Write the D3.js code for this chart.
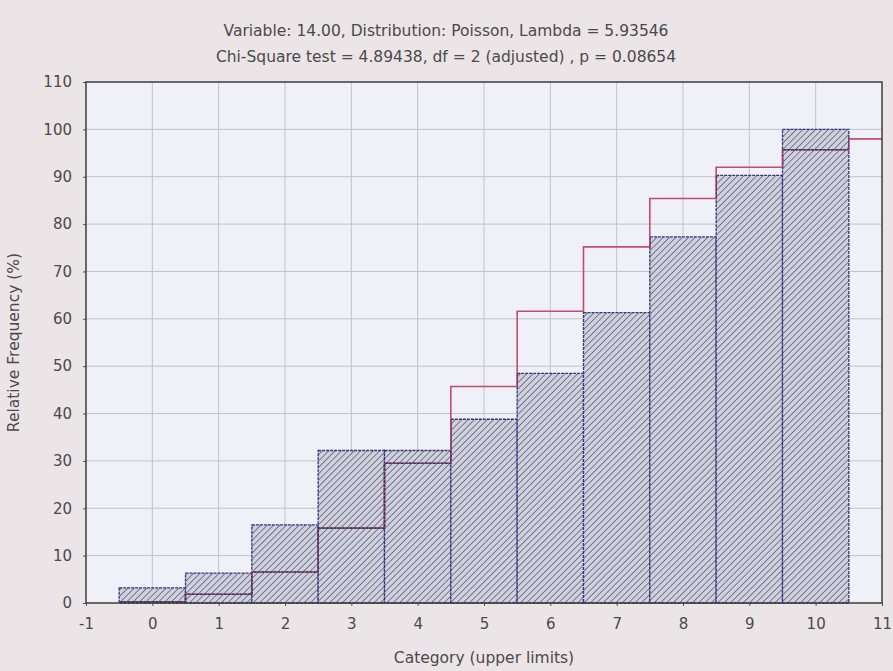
<!DOCTYPE html>
<html>
<head>
<meta charset="utf-8">
<script src="https://cdn.jsdelivr.net/npm/d3@7"></script>
<style>
  body { margin: 0; background: #ebe5e7; }
  text { font-family: 'DejaVu Sans', sans-serif; fill: #4a4a4a; }
</style>
</head>
<body>
<div id="chart"></div>
<script>
// upper limits of the categories (cumulative histogram)
var categories = [0, 1, 2, 3, 4, 5, 6, 7, 8, 9, 10];
// observed cumulative relative frequency (%)
var observed = [3.2, 6.3, 16.5, 32.2, 32.2, 38.8, 48.5, 61.3, 77.3, 90.3, 100];
// expected cumulative Poisson (%) for categories 0..11
var expected = [0.26, 1.84, 6.54, 15.8, 29.5, 45.7, 61.6, 75.2, 85.4, 92.0, 95.7, 98.0];
var xTicks = [-1, 0, 1, 2, 3, 4, 5, 6, 7, 8, 9, 10, 11];
var yTicks = [0, 10, 20, 30, 40, 50, 60, 70, 80, 90, 100, 110];
var titleLines = [
  'Variable: 14.00, Distribution: Poisson, Lambda = 5.93546',
  'Chi-Square test = 4.89438, df = 2 (adjusted) , p = 0.08654'
];

var histChart = {};

histChart.create = function(el, props) {
  var svg = d3.select(el).append('svg')
              .attr('width', props.width + props.margin.left + props.margin.right)
              .attr('height', props.height + props.margin.top + props.margin.bottom);

  var defs = svg.append('defs');
  var hatch = defs.append('pattern')
                  .attr('id', 'hatch')
                  .attr('width', 4.5)
                  .attr('height', 4.5)
                  .attr('patternUnits', 'userSpaceOnUse')
                  .attr('patternTransform', 'rotate(45)');
  hatch.append('rect').attr('width', 4.5).attr('height', 4.5).attr('fill', '#d0d1df');
  hatch.append('line')
       .attr('x1', 0).attr('y1', 0).attr('x2', 0).attr('y2', 4.5)
       .attr('stroke', '#4f5366').attr('stroke-width', 1.4);

  this.props = props;
  this.svg = svg;

  svg.append('g').attr('class', 'titleWrapper');
  svg.append('g').attr('class', 'plotWrapper')
     .attr('transform', 'translate(' + props.margin.left + ',' + props.margin.top + ')');

  this._drawTitle();
  this._drawGrid();
  this._drawBars();
  this._drawExpected();
  this._drawAxis();
};

histChart._scales = function() {
  var x = d3.scaleLinear().domain([-1, 11]).range([0, this.props.width]);
  var y = d3.scaleLinear().domain([0, 110]).range([this.props.height, 0]);
  return {x: x, y: y};
};

histChart._drawTitle = function() {
  this.svg.select('g.titleWrapper').selectAll('text')
      .data(titleLines)
      .enter()
      .append('text')
      .attr('x', 446)
      .attr('y', function(d, i) { return 36 + i * 26; })
      .attr('text-anchor', 'middle')
      .attr('font-size', 15.5)
      .text(function(d) { return d; });
};

histChart._drawGrid = function() {
  var s = this._scales();
  var g = this.svg.select('g.plotWrapper');
  var w = this.props.width, h = this.props.height;

  g.append('rect').attr('width', w).attr('height', h).attr('fill', '#f0f1f8');

  g.append('g').selectAll('line').data(yTicks.slice(1, -1))
   .enter().append('line')
   .attr('x1', 0).attr('x2', w)
   .attr('y1', function(d) { return s.y(d); })
   .attr('y2', function(d) { return s.y(d); })
   .attr('stroke', '#c2c2cb').attr('stroke-width', 1);

  g.append('g').selectAll('line').data(xTicks.slice(1, -1))
   .enter().append('line')
   .attr('y1', 0).attr('y2', h)
   .attr('x1', function(d) { return s.x(d); })
   .attr('x2', function(d) { return s.x(d); })
   .attr('stroke', '#c2c2cb').attr('stroke-width', 1);
};

histChart._drawBars = function() {
  var s = this._scales();
  var g = this.svg.select('g.plotWrapper');
  var clip = this.svg.select('defs').append('clipPath').attr('id', 'barClip');

  var rect = function(sel) {
    sel.attr('x', function(d, i) { return s.x(categories[i] - 0.5); })
       .attr('width', function(d, i) { return s.x(categories[i] + 0.5) - s.x(categories[i] - 0.5); })
       .attr('y', function(d) { return s.y(d); })
       .attr('height', function(d) { return s.y(0) - s.y(d); });
  };

  clip.selectAll('rect').data(observed).enter().append('rect').call(rect);

  g.append('g').attr('class', 'bars')
   .selectAll('rect').data(observed)
   .enter().append('rect')
   .call(rect)
   .attr('fill', 'url(#hatch)')
   .attr('stroke', '#34347c')
   .attr('stroke-width', 1.3)
   .attr('stroke-dasharray', '3,1');
};

histChart._drawExpected = function() {
  var s = this._scales();
  var g = this.svg.select('g.plotWrapper');
  // step points: start of each category, plus the right edge of the plot
  var pts = expected.map(function(d, i) { return [i - 0.5, d]; });
  pts.push([11, expected[expected.length - 1]]);

  var lineFunc = d3.line()
                   .x(function(d) { return s.x(d[0]); })
                   .y(function(d) { return s.y(d[1]); })
                   .curve(d3.curveStepAfter);

  g.append('path')
   .attr('d', lineFunc(pts))
   .attr('fill', 'none')
   .attr('stroke', '#c24d6a')
   .attr('stroke-width', 1.6);

  // inside the bars the expected line shows dark and dashed
  g.append('path')
   .attr('d', lineFunc(pts))
   .attr('clip-path', 'url(#barClip)')
   .attr('fill', 'none')
   .attr('stroke', '#3a3a66')
   .attr('stroke-width', 1.6)
   .attr('stroke-dasharray', '3,1');
};

histChart._drawAxis = function() {
  var s = this._scales();
  var g = this.svg.select('g.plotWrapper');
  var w = this.props.width, h = this.props.height;
  var fmt = function(d) { return String(d); };

  var yAxis = d3.axisLeft(s.y).tickValues(yTicks).tickFormat(fmt).tickSize(3).tickPadding(11);
  var xAxis = d3.axisBottom(s.x).tickValues(xTicks).tickFormat(fmt).tickSize(3).tickPadding(12);

  var ya = g.append('g').call(yAxis);
  var xa = g.append('g').attr('transform', 'translate(0,' + h + ')').call(xAxis);

  [ya, xa].forEach(function(a) {
    a.select('.domain').remove();
    a.selectAll('line').attr('stroke', '#555');
    a.selectAll('text').attr('font-size', 15).attr('fill', '#4a4a4a')
     .style('font-family', "'DejaVu Sans', sans-serif");
  });

  g.append('rect')
   .attr('width', w).attr('height', h)
   .attr('fill', 'none')
   .attr('stroke', '#3c3c3c')
   .attr('stroke-width', 1.5);

  g.append('text')
   .attr('x', w / 2)
   .attr('y', h + 60)
   .attr('text-anchor', 'middle')
   .attr('font-size', 15.5)
   .text('Category (upper limits)');

  g.append('text')
   .attr('transform', 'translate(-67,' + (h / 2) + ') rotate(-90)')
   .attr('text-anchor', 'middle')
   .attr('font-size', 15.5)
   .text('Relative Frequency (%)');
};

histChart.create(document.getElementById('chart'), {
  width: 796,
  height: 521,
  margin: {top: 82, right: 11, bottom: 68, left: 86}
});
</script>
</body>
</html>
